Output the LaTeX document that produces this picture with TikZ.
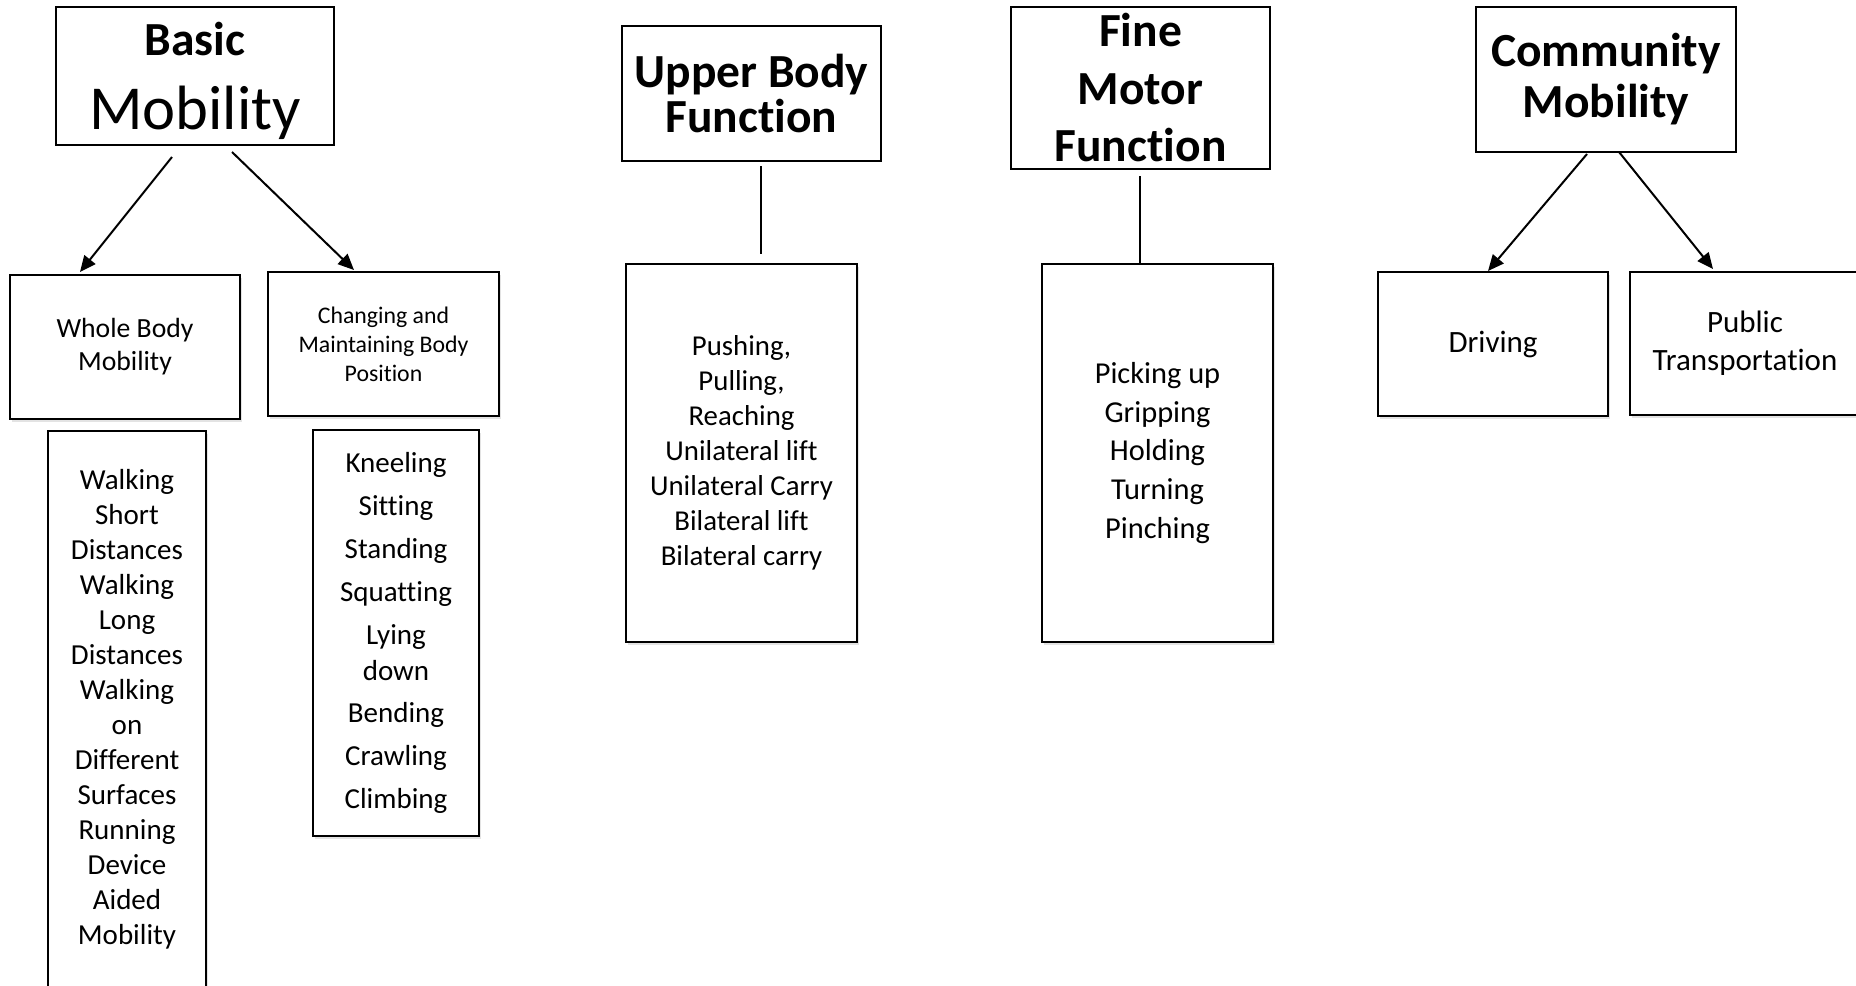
\documentclass[tikz,border=0pt]{standalone}
\usepackage{fontspec}
\setmainfont{Carlito}[Ligatures=NoCommon]
\usetikzlibrary{arrows.meta,shadows}
\tikzset{
  headbox/.style={draw,line width=1pt,align=center,inner sep=0pt,fill=white},
  subbox/.style={headbox,drop shadow={shadow xshift=.8pt,shadow yshift=-1.6pt,opacity=.22}},
  branch/.style={-{Triangle[length=8pt,width=7pt]},line width=1pt},
  stem/.style={line width=.7pt}
}

\begin{document}
\begin{tikzpicture}[x=.5pt,y=-.5pt]
\useasboundingbox (0,0) rectangle (1856,985);
\node[headbox,minimum width=139pt,minimum height=69pt,text depth=0pt,font=\fontsize{31.3}{37}\selectfont] (basic) at (195,76) {{\fontsize{23.75}{28}\selectfont\bfseries Basic}\\Mobility};
\node[headbox,minimum width=129.5pt,minimum height=67.5pt,font=\fontsize{23.75}{22.5}\selectfont\bfseries] (upper) at (751.5,93.5) {Upper Body\\Function};
\node[headbox,minimum width=129.5pt,minimum height=81pt,font=\fontsize{23.75}{28.75}\selectfont\bfseries] (fine) at (1140.5,88) {Fine\\Motor\\Function};
\node[headbox,minimum width=130pt,minimum height=72.5pt,font=\fontsize{23.75}{25.5}\selectfont\bfseries] (commun) at (1606,79.5) {Community\\Mobility};
\node[subbox,minimum width=115pt,minimum height=72pt,font=\fontsize{13.85}{16.5}\selectfont] (whole) at (125,347) {Whole Body\\Mobility};
\node[subbox,minimum width=115.5pt,minimum height=72pt,font=\fontsize{11.9}{14.5}\selectfont] (posture) at (383.5,344) {Changing and\\Maintaining Body\\Position};
\node[subbox,minimum width=79pt,minimum height=278pt,font=\fontsize{14.5}{17.5}\selectfont] (wholelist) at (127,709) {Walking\\Short\\Distances\\Walking\\Long\\Distances\\Walking\\on\\Different\\Surfaces\\Running\\Device\\Aided\\Mobility};
\node[subbox,minimum width=83pt,minimum height=203pt,font=\fontsize{14.5}{18}\selectfont] (postlist) at (396,633) {Kneeling\\[3.45pt]Sitting\\[3.45pt]Standing\\[3.45pt]Squatting\\[3.45pt]Lying\\down\\[3.45pt]Bending\\[3.45pt]Crawling\\[3.45pt]Climbing};
\node[subbox,minimum width=115.5pt,minimum height=189pt,font=\fontsize{14.4}{17.5}\selectfont] (upperlist) at (741.5,453) {Pushing,\\Pulling,\\Reaching\\Unilateral lift\\Unilateral Carry\\Bilateral lift\\Bilateral carry};
\node[subbox,minimum width=115.5pt,minimum height=189pt,font=\fontsize{15.2}{19.4}\selectfont] (finelist) at (1157.5,453) {Picking up\\Gripping\\Holding\\Turning\\Pinching};
\node[subbox,minimum width=115pt,minimum height=72pt,font=\fontsize{15.5}{19}\selectfont] (driving) at (1493,344) {Driving};
\node[subbox,minimum width=115pt,minimum height=71.5pt,font=\fontsize{15.5}{19}\selectfont] (transit) at (1745,343.5) {Public\\Transportation};
\coordinate (basicL) at (172,157);
\coordinate (wholeT) at (80,272);
\coordinate (basicR) at (232,152);
\coordinate (postT) at (354,270);
\coordinate (upperB) at (761,166);
\coordinate (upperlistT) at (761,254);
\coordinate (fineB) at (1140,176);
\coordinate (finelistT) at (1140,264);
\coordinate (communL) at (1587,154);
\coordinate (drivingT) at (1488,271);
\coordinate (communR) at (1619,152);
\coordinate (transitT) at (1713,269);
\draw[branch] (basicL) -- (wholeT);
\draw[branch] (basicR) -- (postT);
\draw[stem] (upperB) -- (upperlistT);
\draw[stem] (fineB) -- (finelistT);
\draw[branch] (communL) -- (drivingT);
\draw[branch] (communR) -- (transitT);
\end{tikzpicture}
\end{document}
